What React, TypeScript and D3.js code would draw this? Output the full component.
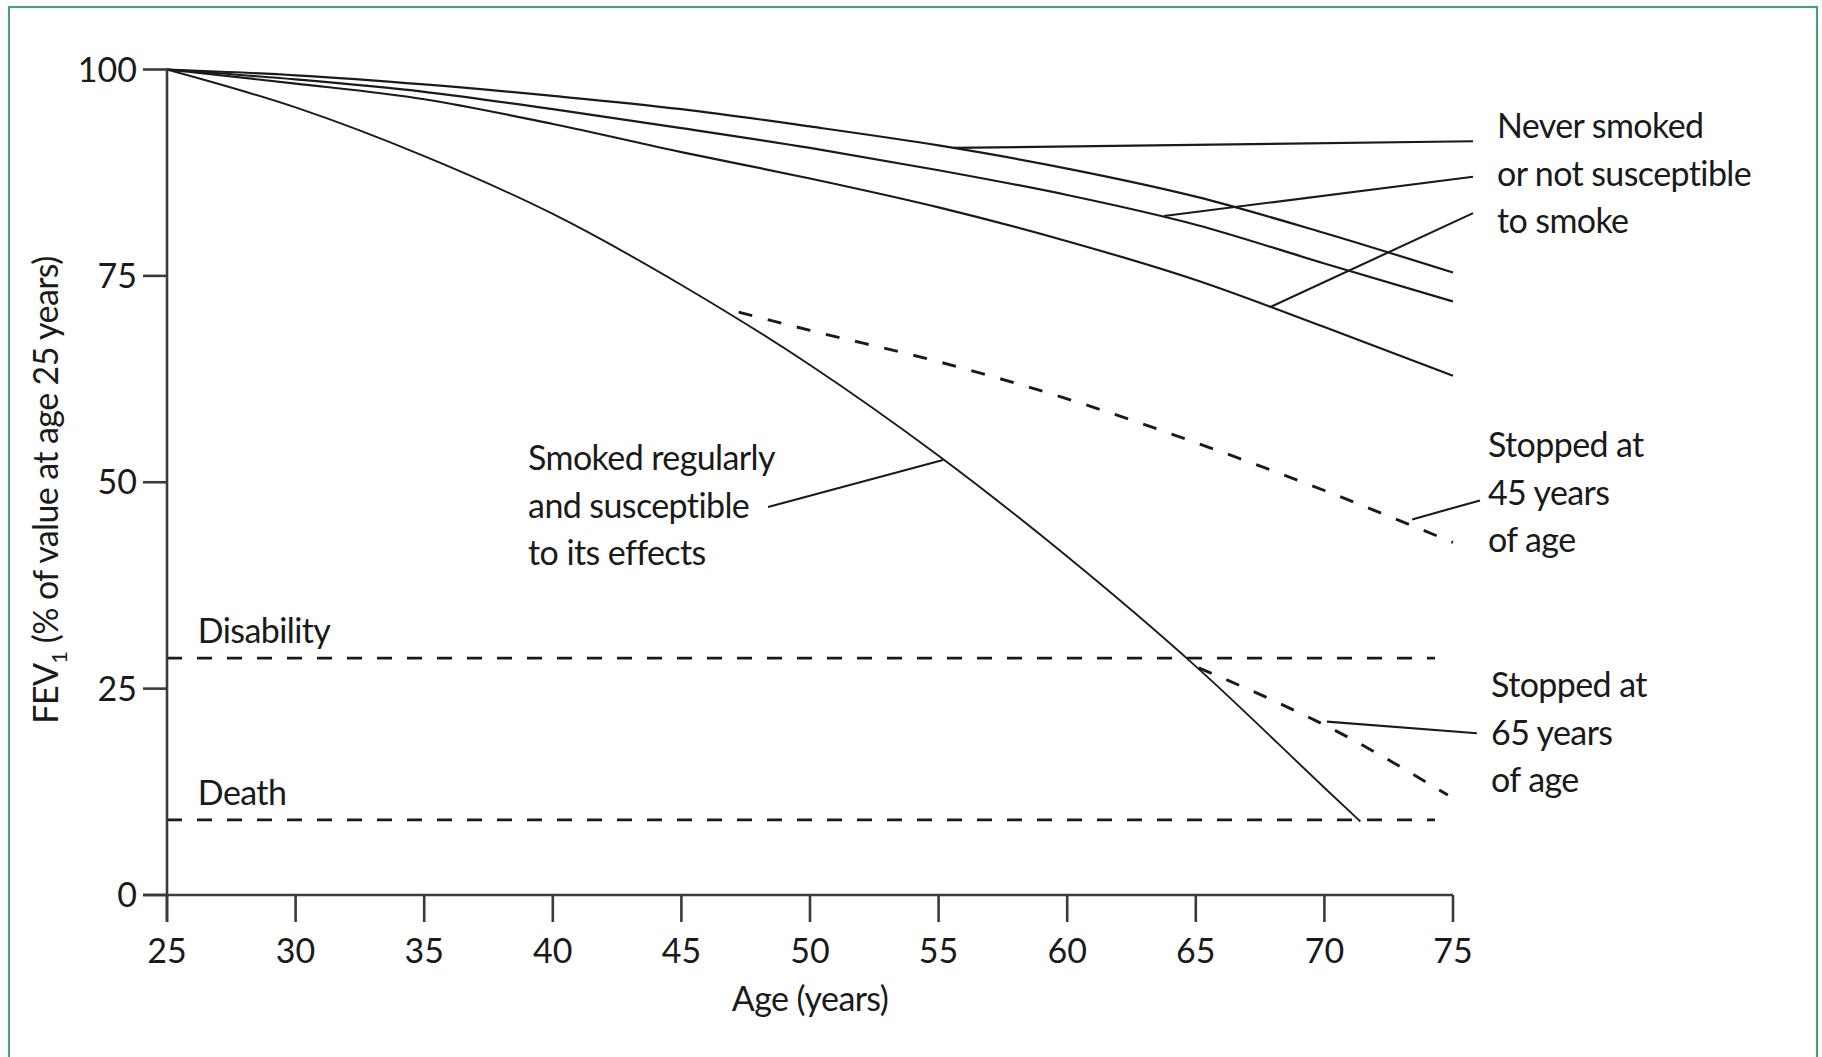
import React from "react";
import * as d3 from "d3";

const W = 1822;
const H = 1057;

// Curves (age, FEV1 % of value at age 25)
const ages = [25, 30, 35, 40, 45, 50, 55, 60, 65, 70, 75];
const neverSmokedA = [100, 99.3, 98.2, 96.8, 95.2, 93.1, 90.8, 88.0, 84.6, 80.2, 75.4];
const neverSmokedB = [100, 98.8, 97.3, 95.2, 92.9, 90.5, 87.8, 84.8, 81.2, 76.5, 71.9];
const neverSmokedC = [100, 98.3, 96.4, 93.4, 90.0, 86.8, 83.3, 79.2, 74.5, 68.8, 62.9];

const smokerAges = [25, 30, 35, 40, 45, 50, 55, 60, 65, 70, 71.4];
const smokerValues = [100, 95.4, 89.5, 82.5, 73.9, 64.2, 53.2, 41.0, 27.7, 13.0, 8.9];

const stop45Ages = [47, 50, 55, 60, 65, 70, 75];
const stop45Values = [70.8, 68.4, 64.6, 60.1, 54.8, 49.0, 42.7];

const stop65Ages = [64.9, 68.4, 70, 74.8];
const stop65Values = [27.8, 23.0, 20.6, 12.1];

const thresholdNames = ["Disability", "Death"];
const thresholdValues = [28.7, 9.1];
const thresholdEnd = 74.3;

const xTicks = [25, 30, 35, 40, 45, 50, 55, 60, 65, 70, 75];
const yTicks = [0, 25, 50, 75, 100];

// leader lines: [age1, value1, age2, value2]
const leaders = [
  [55.56, 90.5, 75.78, 91.3],
  [63.76, 82.25, 75.78, 87.0],
  [67.88, 71.2, 75.78, 82.6],
  [73.41, 45.5, 76.05, 47.8],
  [70.1, 21.0, 75.93, 19.6],
  [55.17, 52.7, 48.37, 47.0],
];

// labels: anchor age, anchor value (first baseline), lines
const labelAges = [76.71, 76.36, 76.48, 39.04];
const labelValues = [91.7, 53.06, 23.99, 51.48];
const labelLines = [
  ["Never smoked", "or not susceptible", "to smoke"],
  ["Stopped at", "45 years", "of age"],
  ["Stopped at", "65 years", "of age"],
  ["Smoked regularly", "and susceptible", "to its effects"],
];

const FONT = "Lato, 'Open Sans', sans-serif";
const FS = 34;
const LINE_H = 47.6;
const INK = "#1a1a1a";
const AXIS = "#3a3a3a";

export default function App() {
  const x = d3.scaleLinear().domain([25, 75]).range([167, 1453]);
  const y = d3.scaleLinear().domain([0, 100]).range([895, 69.5]);

  const line = d3
    .line<[number, number]>()
    .x((d) => x(d[0]))
    .y((d) => y(d[1]))
    .curve(d3.curveMonotoneX);

  const zip = (a: number[], b: number[]) => a.map((v, i) => [v, b[i]] as [number, number]);

  const solid = [
    zip(ages, neverSmokedA),
    zip(ages, neverSmokedB),
    zip(ages, neverSmokedC),
    zip(smokerAges, smokerValues),
  ];
  const dashed = [zip(stop45Ages, stop45Values), zip(stop65Ages, stop65Values)];

  return (
    <svg
      width={W}
      height={H}
      style={{ position: "absolute", left: 0, top: 0, background: "#fff" }}
      fontFamily={FONT}
    >
      <rect x={0} y={0} width={W} height={H} fill="#fff" />
      <rect x={9} y={7} width={1808} height={1100} fill="none" stroke="#4f9e78" strokeWidth={2.2} />

      {/* thresholds */}
      {thresholdValues.map((v, i) => (
        <g key={"t" + i}>
          <line
            x1={x(25)}
            x2={x(thresholdEnd)}
            y1={y(v)}
            y2={y(v)}
            stroke={INK}
            strokeWidth={2.8}
            strokeDasharray="15 15"
          />
          <text x={x(26.2)} y={y(v) - 15} fontSize={FS} fill={INK} letterSpacing={-0.6}>
            {thresholdNames[i]}
          </text>
        </g>
      ))}

      {/* curves */}
      {solid.map((d, i) => (
        <path key={"s" + i} d={line(d) || ""} fill="none" stroke={INK} strokeWidth={i === 3 ? 1.9 : 2.2} />
      ))}
      {dashed.map((d, i) => (
        <path
          key={"d" + i}
          d={line(d) || ""}
          fill="none"
          stroke={INK}
          strokeWidth={2.9}
          strokeDasharray="14 16"
          strokeDashoffset={-6}
        />
      ))}

      {/* leaders */}
      {leaders.map((l, i) => (
        <line key={"l" + i} x1={x(l[0])} y1={y(l[1])} x2={x(l[2])} y2={y(l[3])} stroke={INK} strokeWidth={2.1} />
      ))}

      {/* labels */}
      {labelLines.map((lines, i) => (
        <text key={"lab" + i} x={x(labelAges[i])} y={y(labelValues[i])} fontSize={FS} fill={INK} letterSpacing={-0.6}>
          {lines.map((s, j) => (
            <tspan key={j} x={x(labelAges[i])} dy={j === 0 ? 0 : LINE_H}>
              {s}
            </tspan>
          ))}
        </text>
      ))}

      {/* axes */}
      <line x1={x(25)} x2={x(25)} y1={y(100)} y2={y(0) + 27} stroke={AXIS} strokeWidth={2.6} />
      <line x1={x(25) - 24} x2={x(75)} y1={y(0)} y2={y(0)} stroke={AXIS} strokeWidth={2.6} />
      {yTicks.map((t) => (
        <g key={"yt" + t}>
          <line x1={x(25) - 24} x2={x(25)} y1={y(t)} y2={y(t)} stroke={AXIS} strokeWidth={2.6} />
          <text x={x(25) - 30} y={y(t)} dy="0.36em" textAnchor="end" fontSize={FS} fill={INK}>
            {t}
          </text>
        </g>
      ))}
      {xTicks.map((t) => (
        <g key={"xt" + t}>
          <line x1={x(t)} x2={x(t)} y1={y(0)} y2={y(0) + 27} stroke={AXIS} strokeWidth={2.6} />
          <text x={x(t)} y={963} textAnchor="middle" fontSize={FS} fill={INK}>
            {t}
          </text>
        </g>
      ))}

      <text x={810} y={1011} textAnchor="middle" fontSize={FS} fill={INK} letterSpacing={-0.6}>
        Age (years)
      </text>
      <text transform="translate(58,490) rotate(-90)" textAnchor="middle" fontSize={FS} fill={INK} letterSpacing={-0.6}>
        FEV
        <tspan fontSize={22} dy={9}>1</tspan>
        <tspan dy={-9}> (% of value at age 25 years)</tspan>
      </text>
    </svg>
  );
}
